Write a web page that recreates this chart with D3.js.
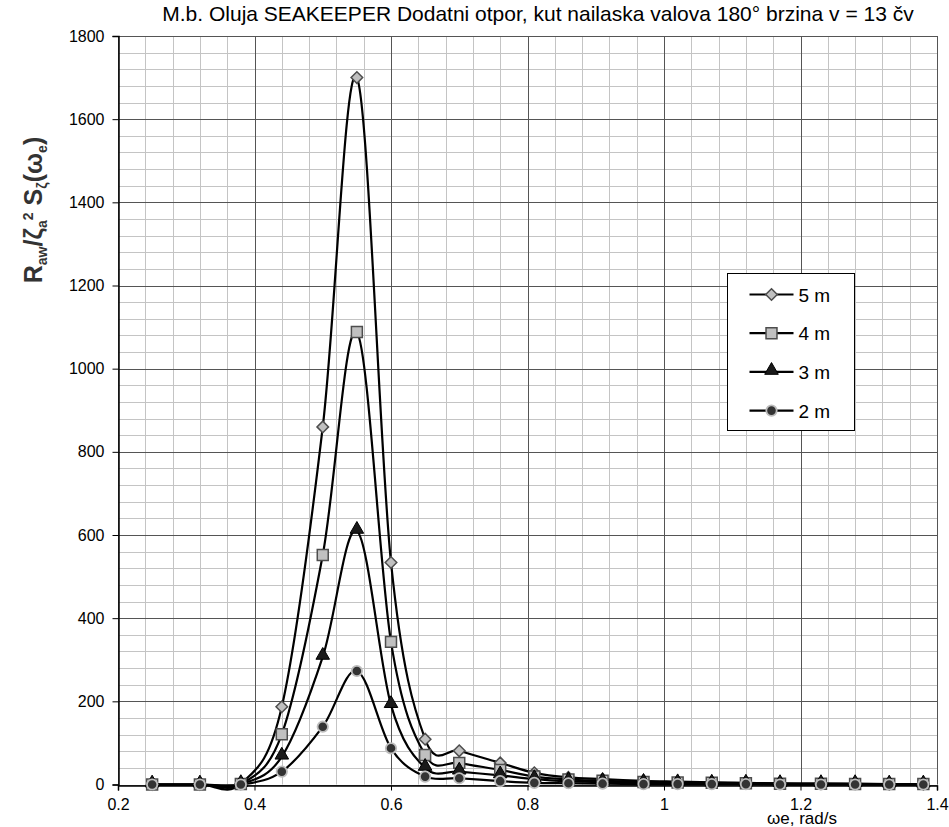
<!DOCTYPE html>
<html>
<head>
<meta charset="utf-8">
<script src="https://cdn.jsdelivr.net/npm/d3@7"></script>
<style>
  body { margin: 0; background: #fff; }
  svg { font-family: "Liberation Sans", Arial, sans-serif; }
</style>
</head>
<body>
<script>
// frekvencije susreta (rad/s)
var omega = [0.25, 0.32, 0.38, 0.44, 0.50, 0.55, 0.60, 0.65, 0.70, 0.76, 0.81, 0.86, 0.91, 0.97, 1.02, 1.07, 1.12, 1.17, 1.23, 1.28, 1.33, 1.38];

// dodatni otpor za pojedine visine valova
var h5 = [0, 0, 2, 187, 860, 1700, 534, 109, 81, 52, 28, 17, 13, 9, 7, 5, 4, 3, 2, 2, 1, 1];
var h4 = [0, 0, 1, 121, 552, 1088, 343, 71, 52, 35, 19, 12, 9, 6, 5, 4, 3, 2, 2, 1, 1, 1];
var h3 = [0, 0, 1, 67, 307, 610, 191, 40, 31, 22, 13, 8, 6, 4, 3, 2, 2, 1, 1, 1, 0, 0];
var h2 = [0, 0, 0, 31, 139, 273, 87, 19, 15, 8, 4, 3, 2, 1, 1, 1, 1, 0, 0, 0, 0, 0];

var seriesNames = ["5 m", "4 m", "3 m", "2 m"];
var xTicks = [0.2, 0.4, 0.6, 0.8, 1, 1.2, 1.4];
var yTicks = [0, 200, 400, 600, 800, 1000, 1200, 1400, 1600, 1800];

var W = 949, H = 827;
var margin = {top: 36, right: 12, bottom: 42.5, left: 118};

var svg = d3.select("body").append("svg")
  .attr("width", W)
  .attr("height", H);

var x = d3.scaleLinear().domain([0.2, 1.4]).range([margin.left, W - margin.right]);
var y = d3.scaleLinear().domain([0, 1800]).range([H - margin.bottom, margin.top]);

// mreza - sitne linije
var grid = svg.append("g");
grid.selectAll(".vmin")
  .data(d3.range(0.2, 1.4001, 0.04))
  .enter().append("line")
  .attr("x1", d => Math.round(x(d)) + 0.5).attr("x2", d => Math.round(x(d)) + 0.5)
  .attr("y1", y(1800)).attr("y2", y(0))
  .attr("stroke", "#c4c4c4").attr("stroke-width", 1);
grid.selectAll(".hmin")
  .data(d3.range(0, 1800.1, 40))
  .enter().append("line")
  .attr("x1", x(0.2)).attr("x2", x(1.4))
  .attr("y1", d => Math.round(y(d)) + 0.5).attr("y2", d => Math.round(y(d)) + 0.5)
  .attr("stroke", "#c4c4c4").attr("stroke-width", 1);

// glavne linije
grid.selectAll(".vmaj")
  .data(xTicks)
  .enter().append("line")
  .attr("x1", d => Math.round(x(d)) + 0.5).attr("x2", d => Math.round(x(d)) + 0.5)
  .attr("y1", y(1800)).attr("y2", y(0))
  .attr("stroke", "#555").attr("stroke-width", 1);
grid.selectAll(".hmaj")
  .data(yTicks)
  .enter().append("line")
  .attr("x1", x(0.2)).attr("x2", x(1.4))
  .attr("y1", d => Math.round(y(d)) + 0.5).attr("y2", d => Math.round(y(d)) + 0.5)
  .attr("stroke", "#555").attr("stroke-width", 1);

// osi
var yAxis = svg.append("g")
  .attr("transform", "translate(" + (Math.round(x(0.2)) + 0.5) + ",0)")
  .call(d3.axisLeft(y).tickValues(yTicks).tickFormat(d3.format("d")).tickSize(6).tickPadding(8));
var xAxis = svg.append("g")
  .attr("transform", "translate(0," + (Math.round(y(0)) + 0.5) + ")")
  .call(d3.axisBottom(x).tickValues(xTicks).tickFormat(d => String(d)).tickSize(5).tickPadding(8));

[yAxis, xAxis].forEach(function(a) {
  a.select(".domain").attr("stroke", "#000").attr("stroke-width", 1.5);
  a.selectAll(".tick line").attr("stroke", "#000");
  a.selectAll(".tick text").attr("font-size", 16).attr("fill", "#000")
    .style("font-family", "'Liberation Sans', Arial, sans-serif");
});

// krivulje
var data = [h5, h4, h3, h2].map(function(vals, i) {
  return {name: seriesNames[i], pts: vals.map((v, j) => [omega[j], v])};
});

var line = d3.line()
  .x(d => x(d[0]))
  .y(d => y(d[1]))
  .curve(d3.curveCatmullRom.alpha(0));

svg.append("g").selectAll("path")
  .data(data)
  .enter().append("path")
  .attr("d", d => line(d.pts))
  .attr("fill", "none")
  .attr("stroke", "#000")
  .attr("stroke-width", 2.2);

// markeri
var markerStyle = [
  {sym: d3.symbolDiamond2, size: 85, fill: "#c0c0c0", stroke: "#4d4d4d", sw: 1.5},
  {sym: d3.symbolSquare, size: 120, fill: "#c0c0c0", stroke: "#4d4d4d", sw: 1.5},
  {sym: d3.symbolTriangle, size: 80, fill: "#1a1a1a", stroke: "#000", sw: 1},
  {sym: d3.symbolCircle, size: 85, fill: "#333", stroke: "#bdbdbd", sw: 1.8}
];

function drawMarker(g, i, cx, cy) {
  var m = markerStyle[i];
  var dy = i === 2 ? -1.5 : 0;
  g.append("path")
    .attr("d", d3.symbol().type(m.sym).size(m.size)())
    .attr("transform", "translate(" + cx + "," + (cy + dy) + ")")
    .attr("fill", m.fill)
    .attr("stroke", m.stroke)
    .attr("stroke-width", m.sw);
}

var mg = svg.append("g");
data.forEach(function(s, i) {
  s.pts.forEach(function(p) { drawMarker(mg, i, x(p[0]), y(p[1])); });
});

// naslov
svg.append("text")
  .attr("x", 538).attr("y", 21)
  .attr("text-anchor", "middle")
  .attr("font-size", 21)
  .text("M.b. Oluja SEAKEEPER Dodatni otpor, kut nailaska valova 180° brzina v = 13 čv");

// naziv osi x
svg.append("text")
  .attr("x", 767).attr("y", 824)
  .attr("font-size", 17)
  .text("ωe, rad/s");

// naziv osi y
var yl = svg.append("text")
  .attr("transform", "translate(42,210) rotate(-90)")
  .attr("text-anchor", "middle")
  .attr("font-size", 25)
  .attr("font-weight", "bold")
  .attr("fill", "#333");
yl.append("tspan").text("R");
yl.append("tspan").attr("font-size", 14).attr("dy", 5).text("aw");
yl.append("tspan").attr("dy", -5).text("/ζ");
yl.append("tspan").attr("font-size", 14).attr("dy", 5).text("a");
yl.append("tspan").attr("font-size", 14).attr("dy", -14).text("2");
yl.append("tspan").attr("dy", 9).text(" S");
yl.append("tspan").attr("font-size", 14).attr("dy", 5).text("ζ");
yl.append("tspan").attr("dy", -5).text("(ω");
yl.append("tspan").attr("font-size", 14).attr("dy", 5).text("e");
yl.append("tspan").attr("dy", -5).text(")");

// legenda
var lg = svg.append("g").attr("transform", "translate(727.5,273.5)");
lg.append("rect")
  .attr("width", 127).attr("height", 157)
  .attr("fill", "#fff").attr("stroke", "#000").attr("stroke-width", 1);
seriesNames.forEach(function(n, i) {
  var ly = 21 + i * 38.7;
  lg.append("line")
    .attr("x1", 22).attr("x2", 66).attr("y1", ly).attr("y2", ly)
    .attr("stroke", "#000").attr("stroke-width", 2.2);
  drawMarker(lg, i, 44, ly);
  lg.append("text")
    .attr("x", 71).attr("y", ly + 7)
    .attr("font-size", 19)
    .text(n);
});
</script>
</body>
</html>
